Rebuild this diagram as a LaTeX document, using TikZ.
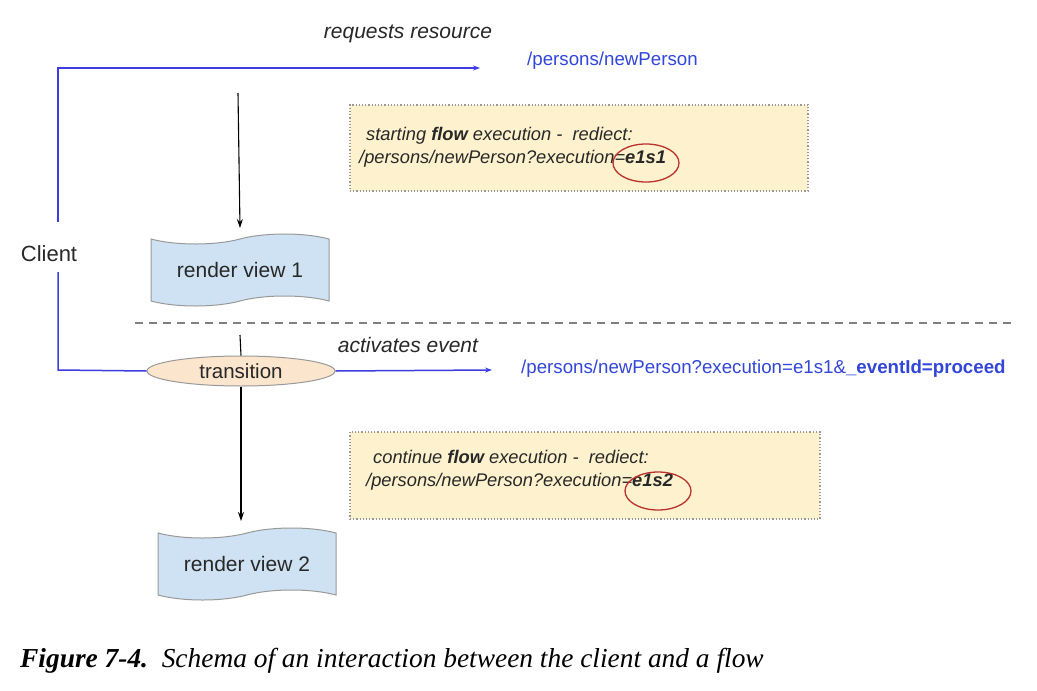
\documentclass[tikz,border=0pt]{standalone}
\usepackage{fontspec}
\setmainfont{Liberation Sans}
\newfontfamily\capfont{Liberation Serif}
\usetikzlibrary{shapes.geometric,shapes.symbols,arrows.meta,calc}
\definecolor{lineblue}{RGB}{60,60,225}
\definecolor{textblue}{RGB}{50,70,215}
\definecolor{noteyellow}{RGB}{253,241,206}
\definecolor{tapeblue}{RGB}{207,226,243}
\definecolor{peach}{RGB}{252,229,205}
\definecolor{circred}{RGB}{185,50,45}
\definecolor{txtgray}{RGB}{40,40,40}
\begin{document}
\begin{tikzpicture}[x=1pt,y=-1pt,
  blueline/.style={draw=lineblue,line width=1.5pt},
  bluearrow/.style={blueline,-{Stealth[length=7pt,width=5pt]}},
  blackarrow/.style={draw=black,line width=1.1pt,-{Stealth[length=9pt,width=6pt]}},
  blackline/.style={draw=black,line width=1.1pt},
  notebox/.style={draw=gray!80,dotted,line width=1.2pt,fill=noteyellow,inner sep=0pt},
  notetext/.style={anchor=north west,align=left,font=\fontsize{18.3}{23}\selectfont\itshape,text=txtgray,inner sep=0pt},
  viewtape/.style={tape,draw=gray!80,line width=1pt,fill=tapeblue,minimum width=178pt,minimum height=72pt,tape bend height=10pt,font=\fontsize{21}{24}\selectfont,text=txtgray},
  redring/.style={ellipse,draw=circred,line width=1.3pt,minimum width=66pt,minimum height=38pt,inner sep=0pt},
  labeltext/.style={font=\fontsize{21}{24}\selectfont\itshape,text=txtgray,inner sep=0pt},
  urltext/.style={font=\fontsize{18.7}{22}\selectfont,text=textblue,inner sep=0pt,anchor=west}
]
\useasboundingbox[fill=white] (0,0) rectangle (1037,691);

% client
\node[font=\fontsize{22}{26}\selectfont,text=txtgray,inner sep=0pt] (client) at (49,254) {Client};
\coordinate (cup) at (58,222);
\coordinate (ctop) at (58,68);
\coordinate (req) at (480,68);
\draw[bluearrow] (cup) -- (ctop) -- (req);
\node[labeltext] (reqlbl) at (408,34) {requests resource};
\node[urltext] (url1) at (527,61) {/persons/newPerson};

% note 1
\node[notebox,minimum width=458pt,minimum height=86pt] (note1) at (579,148) {};
\node[notetext] (t1) at (359,127) {\hspace{7pt}starting \textbf{flow} execution -\ \ rediect:\\/persons/newPerson?execution=\textbf{e1s1}};
\node[redring] (ring1) at (646,163) {};

% render view 1
\coordinate (a1s) at (238,93);
\node[viewtape] (rv1) at (240,270) {render view 1};
\coordinate (a1e) at (240,228);
\draw[blackarrow] (a1s) -- (a1e);

% dashed separator
\coordinate (dl) at (135,323);
\coordinate (dr) at (1015,323);
\draw[gray,line width=1.2pt,dash pattern=on 8pt off 6pt] (dl) -- (dr);

% transition
\node[ellipse,draw=gray!80,line width=1pt,fill=peach,minimum width=188pt,minimum height=30pt,inner sep=0pt,font=\fontsize{20.5}{24}\selectfont,text=txtgray] (trans) at (241,371) {transition};
\coordinate (clow) at (58,272);
\coordinate (cbot) at (58,370);
\draw[blueline] (clow) -- (cbot) -- (trans.west);
\coordinate (evt) at (492,370);
\draw[bluearrow] (trans.east) -- (evt);
\node[labeltext] (evlbl) at (408,345) {activates event};
\node[urltext] (url2) at (521,369) {/persons/newPerson?execution=e1s1\&\textbf{\_eventId=proceed}};
\coordinate (tl) at (240,335);
\draw[blackline] (tl) -- (trans.north);

% note 2
\node[notebox,minimum width=470pt,minimum height=87pt] (note2) at (585,475.5) {};
\node[notetext] (t2) at (366,450) {\hspace{7pt}continue \textbf{flow} execution -\ \ rediect:\\/persons/newPerson?execution=\textbf{e1s2}};
\node[redring] (ring2) at (658,491) {};

% render view 2
\node[viewtape] (rv2) at (247,564) {render view 2};
\coordinate (a2e) at (241,521);
\draw[blackarrow] (trans.south) -- (a2e);

% caption
\node[anchor=base west,inner sep=0pt,font=\capfont\fontsize{27.4}{30}\selectfont] (cap) at (20,667) {\textbf{\textit{Figure 7-4.}}\ \ \textit{Schema of an interaction between the client and a flow}};
\end{tikzpicture}
\end{document}
